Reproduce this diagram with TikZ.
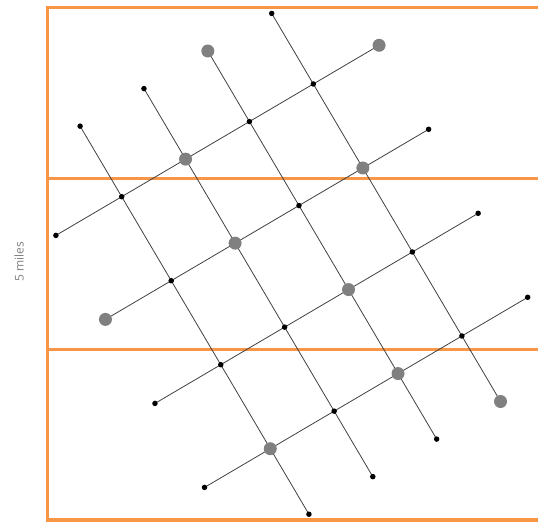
\documentclass[tikz,border=0pt]{standalone}
\usepackage{fontspec}
\setsansfont{Open Sans}
\usepackage{tikz}

\definecolor{mapOrange}{RGB}{247,150,70}
\definecolor{hubGray}{RGB}{128,128,128}
\definecolor{labelGray}{RGB}{128,128,128}

\begin{document}
\begin{tikzpicture}[
  x=1pt, y=-1pt,
  frame/.style={draw=mapOrange, line width=3.3pt},
  road/.style={draw=black!75, line width=0.8pt},
  stop/.style={circle, fill=black, inner sep=0pt, minimum size=5.5pt},
  hub/.style={circle, fill=hubGray, inner sep=0pt, minimum size=13pt},
]
\clip (0,0) rectangle (538,523);
% county frame and bands
\draw[frame] (560,7.3) -| (47.3,520) -- (560,520);
\draw[frame] (47.3,178.7) -- (560,178.7);
\draw[frame] (47.3,349.3) -- (560,349.3);
\node[rotate=90, font=\sffamily\fontsize{12}{14}\selectfont, text=labelGray] (scale) at (19,262) {5 miles};

% street grid, turned by 30 degrees
\begin{scope}[shift={(121.7,196.7)}, x={(63.87pt,37.57pt)}, y={(49.53pt,-84pt)}]
  \foreach \i in {0,...,3} {
    \coordinate (t-\i) at (\i,-0.84);
    \coordinate (e-\i) at (\i,3.78);
    \coordinate (l-\i) at (-1.03,\i);
    \coordinate (r-\i) at (4.03,\i);
    \foreach \j in {0,...,3}
      \coordinate (p-\i-\j) at (\i,\j);
  }
\end{scope}
\foreach \i in {0,...,3} {
  \draw[road] (t-\i) -- (e-\i);
  \draw[road] (l-\i) -- (r-\i);
}

% stops and hubs
\foreach \n in {t-0,t-1,t-3,e-0,e-1,e-2,l-0,l-2,l-3,r-1,r-2,r-3,
                p-0-0,p-0-1,p-0-2,p-1-2,p-1-3,p-2-0,p-2-1,p-3-0,p-3-2,p-3-3}
  \node[stop] (s-\n) at (\n) {};
\foreach \n in {t-2,r-0,l-1,e-3,p-1-0,p-1-1,p-3-1,p-2-2,p-2-3,p-0-3}
  \node[hub] (h-\n) at (\n) {};
\end{tikzpicture}
\end{document}
